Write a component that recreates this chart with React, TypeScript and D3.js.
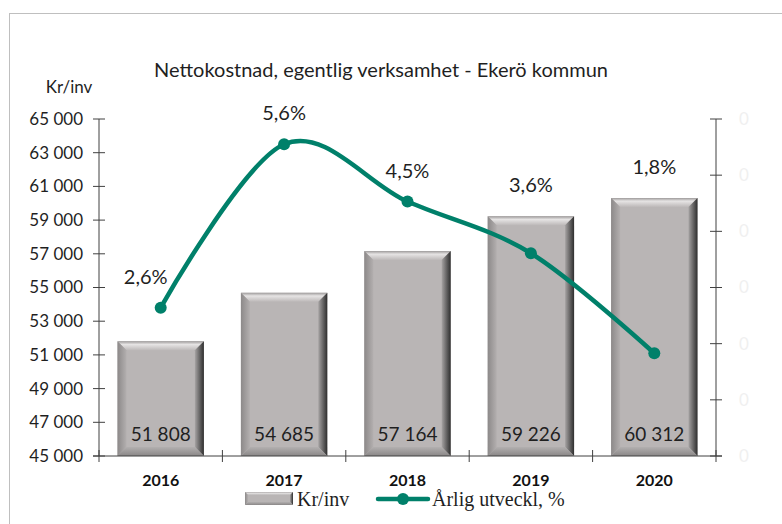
import * as d3 from "d3";

const years = ["2016", "2017", "2018", "2019", "2020"];
const costPerInhabitant = [51808, 54685, 57164, 59226, 60312];
const annualGrowth = [0.0264, 0.0555, 0.0453, 0.0361, 0.0183];
const growthLabels = ["2,6%", "5,6%", "4,5%", "3,6%", "1,8%"];
const leftTicks = d3.range(45000, 65001, 2000);
const rightTicks = d3.range(0, 7).map((i) => i / 100);

const W = 782;
const H = 524;
const left = 99;
const right = 716;
const top = 119;
const bottom = 456;
const axisColor = "#404040";
const lineColor = "#00806a";
const sans = "Lato, 'Open Sans', sans-serif";
const serif = "'Liberation Serif', 'DejaVu Serif', serif";

const locale = d3.formatLocale({
  decimal: ",",
  thousands: "\u00a0",
  grouping: [3],
  currency: ["", " kr"],
});
const fmt = locale.format(",d");

// beveled bar, like Excel's "angle" bevel
const Bevel = ({ x0, y0, x1, y1, b }: { x0: number; y0: number; x1: number; y1: number; b: number }) => {
  const pts = (p: number[][]) => p.map((d) => d.join(",")).join(" ");
  return (
    <g>
      <rect x={x0} y={y0} width={x1 - x0} height={y1 - y0} fill="#b9b5b5" />
      <polygon points={pts([[x0, y0], [x1, y0], [x1 - b, y0 + b], [x0 + b, y0 + b]])} fill="url(#bevTop)" />
      <polygon points={pts([[x0, y0], [x0 + b, y0 + b], [x0 + b, y1 - b], [x0, y1]])} fill="url(#bevLeft)" />
      <polygon points={pts([[x1, y0], [x1, y1], [x1 - b, y1 - b], [x1 - b, y0 + b]])} fill="url(#bevRight)" />
      <polygon points={pts([[x0, y1], [x1, y1], [x1 - b, y1 - b], [x0 + b, y1 - b]])} fill="url(#bevBottom)" />
    </g>
  );
};

export default function App() {
  const x = d3.scaleBand<string>().domain(years).range([left, right]).paddingInner(0.3).paddingOuter(0.15);
  const yL = d3.scaleLinear().domain([45000, 65000]).range([bottom, top]);
  const yR = d3.scaleLinear().domain([0, 0.06]).range([bottom, top]);
  const step = x.step();
  const cx = (d: string) => (x(d) ?? 0) + x.bandwidth() / 2;

  const line = d3
    .line<number>()
    .x((_, i) => cx(years[i]))
    .y((d) => yR(d))
    .curve(d3.curveCardinal.tension(0));

  const boundaries = years.map((_, i) => left + i * step).concat([right]);

  return (
    <svg width={W} height={H} style={{ position: "absolute", left: 0, top: 0, background: "#fff" }}>
      <defs>
        <linearGradient id="bevTop" x1="0" y1="0" x2="0" y2="1">
          <stop offset="0" stopColor="#9e9b9b" />
          <stop offset="0.35" stopColor="#e6e4e4" />
          <stop offset="1" stopColor="#bcb8b8" />
        </linearGradient>
        <linearGradient id="bevLeft" x1="0" y1="0" x2="1" y2="0">
          <stop offset="0" stopColor="#8c8989" />
          <stop offset="1" stopColor="#b3afaf" />
        </linearGradient>
        <linearGradient id="bevRight" x1="0" y1="0" x2="1" y2="0">
          <stop offset="0" stopColor="#a6a3a3" />
          <stop offset="1" stopColor="#2e2e2e" />
        </linearGradient>
        <linearGradient id="bevBottom" x1="0" y1="0" x2="0" y2="1">
          <stop offset="0" stopColor="#b2afaf" />
          <stop offset="1" stopColor="#8a8787" />
        </linearGradient>
      </defs>

      <rect x={9.5} y={13.5} width={900} height={700} fill="none" stroke="#bfbfbf" />

      <text x={381} y={77} textAnchor="middle" fontFamily={sans} fontSize={20} fill="#1f1f1f">
        Nettokostnad, egentlig verksamhet - Ekerö kommun
      </text>
      <text x={69} y={93} textAnchor="middle" fontFamily={sans} fontSize={17} fill="#1f1f1f">
        Kr/inv
      </text>

      {/* bars */}
      {years.map((d, i) => (
        <Bevel key={d} x0={x(d) ?? 0} x1={(x(d) ?? 0) + x.bandwidth()} y0={yL(costPerInhabitant[i])} y1={bottom} b={9} />
      ))}
      {years.map((d, i) => (
        <text key={d} x={cx(d)} y={441} textAnchor="middle" fontFamily={sans} fontSize={19} fill="#1f1f1f">
          {fmt(costPerInhabitant[i])}
        </text>
      ))}

      {/* left axis */}
      <line x1={left} x2={left} y1={top} y2={bottom} stroke={axisColor} />
      {leftTicks.map((t) => (
        <g key={t}>
          <line x1={left - 6} x2={left + 6} y1={yL(t)} y2={yL(t)} stroke={axisColor} />
          <text x={83} y={yL(t)} dy="0.35em" textAnchor="end" fontFamily={sans} fontSize={17} fill="#1f1f1f">
            {fmt(t)}
          </text>
        </g>
      ))}

      {/* right axis */}
      <line x1={right} x2={right} y1={top} y2={bottom} stroke={axisColor} />
      {rightTicks.map((t) => (
        <g key={t}>
          <line x1={right - 6} x2={right + 6} y1={yR(t)} y2={yR(t)} stroke={axisColor} />
          <text x={739} y={yR(t)} dy="0.35em" fontFamily={sans} fontSize={17} fill="#f0f0f0">
            {d3.format(".0f")(t)}
          </text>
        </g>
      ))}

      {/* category axis */}
      <line x1={left - 6} x2={right + 6} y1={bottom} y2={bottom} stroke={axisColor} />
      {boundaries.map((b, i) => (
        <line key={i} x1={b} x2={b} y1={bottom - 6} y2={bottom + 6} stroke={axisColor} />
      ))}
      {years.map((d) => (
        <text key={d} x={cx(d)} y={486} textAnchor="middle" fontFamily={sans} fontWeight="bold" fontSize={16} fill="#111">
          {d}
        </text>
      ))}

      {/* growth line */}
      <path d={line(annualGrowth) ?? ""} fill="none" stroke={lineColor} strokeWidth={4.5} strokeLinecap="round" />
      {annualGrowth.map((v, i) => (
        <circle key={i} cx={cx(years[i])} cy={yR(v)} r={6} fill={lineColor} />
      ))}
      {annualGrowth.map((v, i) => (
        <text
          key={i}
          x={cx(years[i]) - (i === 0 ? 15 : 0)}
          y={Math.min(yR(v), yL(costPerInhabitant[i])) - 31}
          dy="0.35em"
          textAnchor="middle"
          fontFamily={sans}
          fontSize={20}
          fill="#1f1f1f"
        >
          {growthLabels[i]}
        </text>
      ))}

      {/* legend */}
      <Bevel x0={245} x1={293} y0={492} y1={505} b={3} />
      <text x={297} y={506} fontFamily={serif} fontSize={20} fill="#1f1f1f">
        Kr/inv
      </text>
      <line x1={378} x2={428} y1={499} y2={499} stroke={lineColor} strokeWidth={4.5} strokeLinecap="round" />
      <circle cx={403} cy={499} r={6} fill={lineColor} />
      <text x={432} y={506} fontFamily={serif} fontSize={20} fill="#1f1f1f">
        Årlig utveckl, %
      </text>
    </svg>
  );
}
